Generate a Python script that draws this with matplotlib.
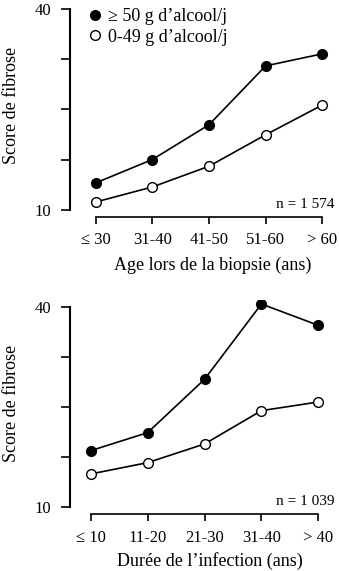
import matplotlib
matplotlib.use("Agg")
import matplotlib.pyplot as plt
from matplotlib.lines import Line2D

# Data
age_labels = ["\u2264 30", "31-40", "41-50", "51-60", "> 60"]
age_heavy = [14.0, 17.5, 22.7, 31.5, 33.3]
age_light = [11.15, 13.4, 16.5, 21.2, 25.65]

dur_labels = ["\u2264 10", "11-20", "21-30", "31-40", "> 40"]
dur_heavy = [18.5, 21.2, 29.2, 40.5, 37.3]
dur_light = [15.0, 16.7, 19.5, 24.5, 25.8]

legend_labels = ["\u2265 50 g d\u2019alcool/j", "0-49 g d\u2019alcool/j"]
yticks = [10, 17.5, 25, 32.5, 40]
ytick_labels = ["10", "", "", "", "40"]

plt.rcParams["font.family"] = ["Liberation Serif", "DejaVu Serif"]

W, H = 339, 571
fig = plt.figure(figsize=(W / 100, H / 100), dpi=100)


def px_axes(left, top, right, bottom):
    return fig.add_axes([left / W, 1 - bottom / H, (right - left) / W, (bottom - top) / H])


def style(ax, labels, xlim, ylim, xlabel, ncount, ylab_y, xlab_xy):
    ax.set_xlim(*xlim)
    ax.set_ylim(*ylim)
    for s in ("top", "right"):
        ax.spines[s].set_visible(False)
    ax.spines["left"].set_bounds(10, 40)
    ax.spines["bottom"].set_bounds(0, 4)
    ax.spines["left"].set_linewidth(1.5)
    ax.spines["bottom"].set_linewidth(1.2)
    ax.set_yticks(yticks)
    ax.set_yticklabels(ytick_labels)
    ax.set_xticks(range(len(labels)))
    ax.set_xticklabels(labels)
    ax.tick_params(axis="y", length=6.5, width=1.2, pad=7, labelsize=12)
    ax.tick_params(axis="x", length=5, width=1.2, pad=6, labelsize=12)
    ax.set_ylabel("Score de fibrose", fontsize=13)
    ax.yaxis.set_label_coords(-0.19, ylab_y)
    ax.set_xlabel(xlabel, fontsize=13, va="center")
    ax.xaxis.set_label_coords(*xlab_xy)
    ax.text(1.0, 0.06, ncount, transform=ax.transAxes, ha="right", va="center", fontsize=11)


def draw(ax, x, heavy, light):
    ax.plot(x, heavy, color="black", lw=1.2, marker="o", ms=7,
            mfc="black", mec="black", mew=1.0, zorder=3)
    ax.plot(x, light, color="black", lw=1.2, marker="o", ms=7,
            mfc="white", mec="black", mew=1.0, zorder=3)


# Upper panel: age at biopsy
ax1 = px_axes(70, 5, 335, 217)
draw(ax1, range(len(age_labels)), age_heavy, age_light)
style(ax1, age_labels, (-0.4537, 4.224), (8.909, 40.6),
      "Age lors de la biopsie (ans)", "n = 1 574", 0.524, (0.54, -0.226))

handles = [
    Line2D([], [], ls="none", marker="o", ms=7, mfc="black", mec="black", mew=1.0),
    Line2D([], [], ls="none", marker="o", ms=7, mfc="white", mec="black", mew=1.0),
]
ax1.legend(handles, legend_labels, loc="upper left",
           bbox_to_anchor=((88.6 - 70) / 265, 1.0 - 3.0 / 212), frameon=False,
           fontsize=13, handlelength=0.7, handletextpad=0.35,
           borderpad=0, borderaxespad=0, labelspacing=0.2)

# Lower panel: duration of infection
ax2 = px_axes(70, 300, 335, 514.3)
draw(ax2, range(len(dur_labels)), dur_heavy, dur_light)
style(ax2, dur_labels, (-0.364, 4.293), (8.95, 41.1),
      "Dur\u00e9e de l\u2019infection (ans)", "n = 1 039", 0.517, (0.528, -0.218))

fig.savefig("out.png", dpi=100)
